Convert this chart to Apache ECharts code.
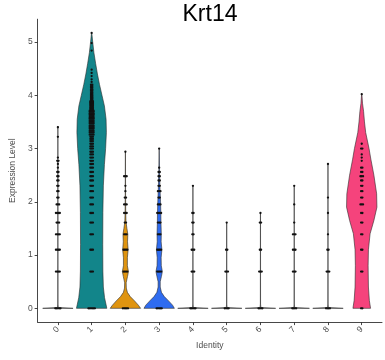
<!DOCTYPE html>
<html><head><meta charset="utf-8">
<script src="https://cdn.jsdelivr.net/npm/echarts@6/dist/echarts.min.js"></script>
<style>html,body{margin:0;padding:0;background:#fff}#c{width:385px;height:360px}</style>
</head><body><div id="c"></div>
<script>
const titleText = 'Krt14';
const categories = ['0','1','2','3','4','5','6','7','8','9'];
const yTicks = [0, 1, 2, 3, 4, 5];
const violinColors = ['#8a8a8a','#12858a','#df9410','#2f6cf0','#8a8a8a','#8a8a8a','#8a8a8a','#8a8a8a','#8a8a8a','#f5437c'];

// violin outlines: [expression level, relative half-width (1 = full)]
const violin0 = [[0,1],[0.015,0.03],[0.08,0.006],[3.42,0.004]];
const violin1 = [[0,1],[0.08,0.94],[0.2,0.85],[0.4,0.77],[0.7,0.74],[1.2,0.73],[1.8,0.74],[2.3,0.77],[2.7,0.84],[3.0,0.92],[3.3,0.97],[3.55,0.95],[3.8,0.84],[4.0,0.68],[4.2,0.52],[4.4,0.38],[4.6,0.26],[4.8,0.15],[5.0,0.07],[5.17,0.01]];
const violin2 = [[0,1],[0.06,0.85],[0.14,0.6],[0.22,0.32],[0.3,0.13],[0.38,0.06],[0.48,0.05],[0.6,0.14],[0.69,0.2],[0.8,0.13],[0.95,0.13],[1.1,0.18],[1.25,0.14],[1.39,0.16],[1.5,0.1],[1.62,0.04],[1.8,0.02],[2.2,0.01],[2.95,0.005]];
const violin3 = [[0,1],[0.06,0.88],[0.14,0.62],[0.22,0.34],[0.3,0.15],[0.4,0.07],[0.5,0.07],[0.6,0.15],[0.69,0.21],[0.8,0.14],[0.95,0.13],[1.1,0.18],[1.25,0.13],[1.39,0.14],[1.6,0.12],[1.8,0.11],[2.0,0.09],[2.2,0.06],[2.4,0.04],[2.6,0.02],[3.0,0.005]];
const violin4 = [[0,1],[0.015,0.03],[0.08,0.006],[2.3,0.004]];
const violin5 = [[0,1],[0.015,0.03],[0.08,0.006],[1.61,0.004]];
const violin6 = [[0,1],[0.015,0.03],[0.08,0.006],[1.79,0.004]];
const violin7 = [[0,1],[0.015,0.03],[0.08,0.006],[2.3,0.004]];
const violin8 = [[0,1],[0.015,0.03],[0.08,0.006],[2.71,0.004]];
const violin9 = [[0,0.58],[0.15,0.5],[0.4,0.44],[0.8,0.42],[1.1,0.44],[1.4,0.55],[1.65,0.8],[1.9,1.0],[2.15,0.98],[2.5,0.8],[2.8,0.6],[3.0,0.48],[3.3,0.26],[3.5,0.18],[3.7,0.12],[3.85,0.05],[4.02,0.01]];

// jittered cells: [expression level, number of cells at that level]
const points0 = [[0,5],[0.69,4],[1.1,4],[1.39,4],[1.61,3],[1.79,4],[1.95,3],[2.08,2],[2.2,2],[2.3,2],[2.4,2],[2.48,2],[2.56,2],[2.64,1],[2.71,1],[2.77,2],[2.83,1],[3.22,1],[3.4,1]];
const points1 = [[0,6],[0.69,3],[1.1,3],[1.39,3],[1.61,3],[1.79,3],[1.95,3],[2.08,3],[2.2,3],[2.3,3],[2.4,3],[2.48,3],[2.56,3],[2.64,3],[2.71,3],[2.77,3],[2.83,3],[2.89,3],[2.94,3],[3.0,3],[3.04,3],[3.09,3],[3.14,3],[3.18,3],[3.22,3],[3.26,4],[3.3,4],[3.33,4],[3.37,4],[3.4,4],[3.43,4],[3.47,4],[3.5,4],[3.53,4],[3.56,4],[3.58,4],[3.61,4],[3.64,4],[3.66,4],[3.69,4],[3.71,4],[3.74,3],[3.76,3],[3.78,3],[3.81,3],[3.83,3],[3.85,3],[3.87,3],[3.89,3],[3.91,2],[3.93,2],[3.95,2],[3.97,2],[3.99,2],[4.01,2],[4.04,2],[4.06,2],[4.09,2],[4.11,2],[4.14,2],[4.17,2],[4.2,2],[4.25,1],[4.3,1],[4.36,1],[4.42,1],[4.48,1],[4.84,1],[4.98,1],[5.17,1]];
const points2 = [[0,5],[0.69,4],[1.1,4],[1.39,3],[1.61,2],[1.79,3],[1.95,3],[2.08,2],[2.2,1],[2.3,1],[2.48,3],[2.94,1]];
const points3 = [[0,5],[0.69,4],[1.1,4],[1.39,3],[1.61,3],[1.79,4],[1.95,3],[2.08,2],[2.2,3],[2.3,2],[2.4,2],[2.48,2],[2.56,2],[2.64,1],[3.0,1]];
const points4 = [[0,5],[0.69,3],[1.1,3],[1.39,2],[1.61,2],[1.79,2],[2.3,1]];
const points5 = [[0,4],[0.69,3],[1.1,2],[1.61,1]];
const points6 = [[0,4],[0.69,3],[1.1,2],[1.61,2],[1.79,1]];
const points7 = [[0,4],[0.69,3],[1.1,3],[1.39,3],[1.61,1],[1.95,1],[2.3,1]];
const points8 = [[0,4],[0.69,3],[1.1,2],[1.39,1],[1.79,1],[2.08,1],[2.71,1]];
const points9 = [[0,2],[0.69,2],[1.1,2],[1.39,2],[1.61,2],[1.79,2],[1.95,3],[2.08,2],[2.2,2],[2.3,2],[2.4,2],[2.48,3],[2.56,2],[2.64,2],[2.77,1],[2.83,1],[2.89,1],[3.0,2],[3.09,1],[4.02,1]];

const violins = [violin0,violin1,violin2,violin3,violin4,violin5,violin6,violin7,violin8,violin9];
const pointSets = [points0,points1,points2,points3,points4,points5,points6,points7,points8,points9];
const HALF = 0.45;

const violinData = categories.map((c, i) => [i]);
const pointData = [];
pointSets.forEach((set, i) => set.forEach(p => pointData.push([i, p[0], p[1]])));

const chart = echarts.init(document.getElementById('c'), null, {renderer: 'canvas'});
const axisColor = '#333';
const labelColor = '#4d4d4d';
chart.setOption({
  animation: false,
  backgroundColor: '#fff',
  title: {
    text: titleText, left: 205, top: -2, textAlign: 'center',
    textStyle: {fontFamily: 'Liberation Sans, Arial, sans-serif', fontSize: 23, fontWeight: 'normal', color: '#000'}
  },
  grid: {left: 28, right: 3, top: 19.2, bottom: 37.9},
  xAxis: {
    type: 'value', min: -0.6, max: 9.6,
    name: 'Identity', nameLocation: 'middle', nameGap: 13,
    nameTextStyle: {fontFamily: 'Liberation Sans, Arial, sans-serif', fontSize: 8.5, color: labelColor},
    axisLine: {show: true, onZero: false, lineStyle: {color: axisColor, width: 0.9}},
    axisTick: {show: true, length: 3, customValues: categories.map((c, i) => i), lineStyle: {color: axisColor, width: 0.9}},
    axisLabel: {show: true, customValues: categories.map((c, i) => i), formatter: v => categories[Math.round(v)], rotate: 45, margin: 6,
      fontFamily: 'Liberation Sans, Arial, sans-serif', fontSize: 8.5, color: labelColor},
    splitLine: {show: false}
  },
  yAxis: {
    type: 'value', min: -0.2585, max: 5.4285,
    name: 'Expression Level', nameLocation: 'middle', nameGap: 13,
    nameTextStyle: {fontFamily: 'Liberation Sans, Arial, sans-serif', fontSize: 8.5, color: labelColor},
    axisLine: {show: true, onZero: false, lineStyle: {color: axisColor, width: 0.9}},
    axisTick: {show: true, length: 3, customValues: yTicks, lineStyle: {color: axisColor, width: 0.9}},
    axisLabel: {show: true, customValues: yTicks, formatter: v => String(Math.round(v)), margin: 5,
      fontFamily: 'Liberation Sans, Arial, sans-serif', fontSize: 8.5, color: labelColor},
    splitLine: {show: false}
  },
  series: [
    {
      type: 'custom', data: violinData, clip: false,
      renderItem: function (params, api) {
        const i = api.value(0);
        const prof = violins[i];
        const pts = [];
        for (let k = 0; k < prof.length; k++) pts.push(api.coord([i + prof[k][1] * HALF, prof[k][0]]));
        for (let k = prof.length - 1; k >= 0; k--) pts.push(api.coord([i - prof[k][1] * HALF, prof[k][0]]));
        return {type: 'polygon', shape: {points: pts}, style: {fill: violinColors[i], stroke: '#2b2b2b', lineWidth: 0.6}};
      }
    },
    {
      type: 'custom', data: pointData, clip: false,
      renderItem: function (params, api) {
        const c = api.coord([api.value(0), api.value(1)]);
        const n = api.value(2);
        const children = [];
        for (let k = 0; k < n; k++) {
          const dx = (k - (n - 1) / 2) * 1.3;
          children.push({type: 'circle', shape: {cx: c[0] + dx, cy: c[1], r: 1.15}, style: {fill: '#111'}});
        }
        return {type: 'group', children: children};
      }
    }
  ]
});
</script></body></html>
